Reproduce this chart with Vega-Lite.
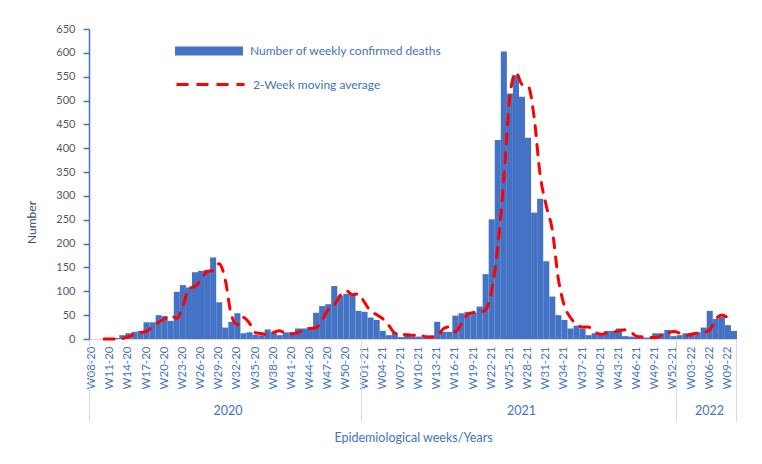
{
  "$schema": "https://vega.github.io/schema/vega-lite/v6.json",
  "width": 648,
  "height": 310,
  "autosize": {"type": "none"},
  "padding": {"left": 89, "top": 29, "right": 25, "bottom": 125},
  "background": "white",
  "config": {"font": "Lato", "view": {"stroke": null}},
  "data": {"values": [
    {"w":"W08-20","d":0,"m":null},{"w":"W09-20","d":0,"m":null},{"w":"W10-20","d":0,"m":0},{"w":"W11-20","d":0,"m":0},
    {"w":"W12-20","d":2,"m":0},{"w":"W13-20","d":8,"m":1},{"w":"W14-20","d":12,"m":5},{"w":"W15-20","d":15,"m":10},
    {"w":"W16-20","d":17,"m":13.5},{"w":"W17-20","d":35,"m":16},{"w":"W18-20","d":35,"m":26},{"w":"W19-20","d":50,"m":35},
    {"w":"W20-20","d":48,"m":42.5},{"w":"W21-20","d":38,"m":49},{"w":"W22-20","d":99,"m":43},{"w":"W23-20","d":113,"m":68.5},
    {"w":"W24-20","d":108,"m":106},{"w":"W25-20","d":140,"m":110.5},{"w":"W26-20","d":143,"m":124},{"w":"W27-20","d":145,"m":141.5},
    {"w":"W28-20","d":171,"m":144},{"w":"W29-20","d":77,"m":158},{"w":"W30-20","d":24,"m":124},{"w":"W31-20","d":36,"m":50.5},
    {"w":"W32-20","d":54,"m":30},{"w":"W33-20","d":12,"m":45},{"w":"W34-20","d":14,"m":33},{"w":"W35-20","d":9,"m":13},
    {"w":"W36-20","d":8,"m":11.5},{"w":"W37-20","d":20,"m":8.5},{"w":"W38-20","d":15,"m":14},{"w":"W39-20","d":8,"m":17.5},
    {"w":"W40-20","d":14,"m":11.5},{"w":"W41-20","d":14,"m":11},{"w":"W42-20","d":22,"m":14},{"w":"W43-20","d":22,"m":18},
    {"w":"W44-20","d":25,"m":22},{"w":"W45-20","d":55,"m":23.5},{"w":"W46-20","d":69,"m":40},{"w":"W47-20","d":73,"m":62},
    {"w":"W48-20","d":111,"m":71},{"w":"W49-20","d":91,"m":92},{"w":"W50-20","d":95,"m":101},{"w":"W51-20","d":94,"m":93},
    {"w":"W52-20","d":59,"m":94.5},
    {"w":"W01-21","d":57,"m":76.5},{"w":"W02-21","d":45,"m":58},{"w":"W03-21","d":40,"m":51},{"w":"W04-21","d":17,"m":42.5},
    {"w":"W05-21","d":8,"m":28.5},{"w":"W06-21","d":13,"m":12.5},{"w":"W07-21","d":4,"m":10.5},{"w":"W08-21","d":12,"m":8.5},
    {"w":"W09-21","d":5,"m":8},{"w":"W10-21","d":5,"m":8.5},{"w":"W11-21","d":3,"m":5},{"w":"W12-21","d":7,"m":4},
    {"w":"W13-21","d":36,"m":5},{"w":"W14-21","d":15,"m":21.5},{"w":"W15-21","d":15,"m":25.5},{"w":"W16-21","d":49,"m":15},
    {"w":"W17-21","d":54,"m":32},{"w":"W18-21","d":57,"m":51.5},{"w":"W19-21","d":55,"m":55.5},{"w":"W20-21","d":68,"m":56},
    {"w":"W21-21","d":136,"m":61.5},{"w":"W22-21","d":251,"m":102},{"w":"W23-21","d":417,"m":193.5},{"w":"W24-21","d":603,"m":334},
    {"w":"W25-21","d":515,"m":510},{"w":"W26-21","d":553,"m":559},{"w":"W27-21","d":508,"m":534},{"w":"W28-21","d":422,"m":530.5},
    {"w":"W29-21","d":265,"m":465},{"w":"W30-21","d":294,"m":343.5},{"w":"W31-21","d":163,"m":279.5},{"w":"W32-21","d":89,"m":228.5},
    {"w":"W33-21","d":50,"m":126},{"w":"W34-21","d":40,"m":69.5},{"w":"W35-21","d":22,"m":45},{"w":"W36-21","d":28,"m":31},
    {"w":"W37-21","d":22,"m":25},{"w":"W38-21","d":8,"m":25},{"w":"W39-21","d":12,"m":15},{"w":"W40-21","d":12,"m":10},
    {"w":"W41-21","d":17,"m":12},{"w":"W42-21","d":17,"m":14.5},{"w":"W43-21","d":22,"m":17},{"w":"W44-21","d":6,"m":19.5},
    {"w":"W45-21","d":5,"m":14},{"w":"W46-21","d":4,"m":5.5},{"w":"W47-21","d":3,"m":4.5},{"w":"W48-21","d":3,"m":3.5},
    {"w":"W49-21","d":12,"m":3},{"w":"W50-21","d":12,"m":7.5},{"w":"W51-21","d":19,"m":12},{"w":"W52-21","d":6,"m":15.5},
    {"w":"W01-22","d":8,"m":12.5},{"w":"W02-22","d":12,"m":7},{"w":"W03-22","d":13,"m":10},{"w":"W04-22","d":14,"m":12.5},
    {"w":"W05-22","d":24,"m":13.5},{"w":"W06-22","d":59,"m":19},{"w":"W07-22","d":42,"m":41.5},{"w":"W08-22","d":46,"m":50.5},
    {"w":"W09-22","d":29,"m":44},{"w":"W10-22","d":17,"m":null}
  ]},
  "layer": [
    {
      "mark": {"type": "bar"},
      "encoding": {
        "x": {"field": "w", "type": "nominal", "sort": null,
          "scale": {"paddingInner": 0, "paddingOuter": 0},
          "axis": {"orient": "bottom", "title": null,
            "values": ["W08-20","W11-20","W14-20","W17-20","W20-20","W23-20","W26-20","W29-20","W32-20","W35-20","W38-20","W41-20","W44-20","W47-20","W50-20","W01-21","W04-21","W07-21","W10-21","W13-21","W16-21","W19-21","W22-21","W25-21","W28-21","W31-21","W34-21","W37-21","W40-21","W43-21","W46-21","W49-21","W52-21","W03-22","W06-22","W09-22"],
            "labelAngle": -90, "labelColor": "#4472C4", "labelFontSize": 11.5, "labelPadding": 7,
            "ticks": false, "domainColor": "#D9D9D9", "domainWidth": 1, "labelOverlap": false, "labelBound": false}},
        "y": {"field": "d", "type": "quantitative", "title": "Number",
          "scale": {"domain": [0, 650], "nice": false},
          "axis": {"values": [0,50,100,150,200,250,300,350,400,450,500,550,600,650], "grid": false,
            "domainColor": "#4472C4", "domainWidth": 1.5, "tickColor": "#4472C4", "tickSize": 6, "tickWidth": 1.5,
            "labelColor": "#595959", "labelFontSize": 11, "labelPadding": 8,
            "titleColor": "#3A4A6B", "titleFontSize": 12, "titleFontWeight": "normal", "titleX": -51, "titleY": 193, "titleAngle": -90}},
        "fill": {"datum": "Number of weekly confirmed deaths", "scale": {"range": ["#4472C4"]},
          "legend": {"orient": "none", "legendX": 86, "legendY": -12, "title": null, "padding": 0, "labelLimit": 0,
            "symbolType": "M-1,-0.132H1V0.132H-1Z", "symbolSize": 4624, "symbolStrokeWidth": 0, "symbolFillColor": "#4472C4",
            "labelColor": "#4472C4", "labelFontSize": 12, "labelOffset": 7}}
      }
    },
    {
      "mark": {"type": "line", "strokeWidth": 3, "strokeDash": [10, 9], "strokeCap": "round", "interpolate": "monotone"},
      "encoding": {
        "x": {"field": "w", "type": "nominal", "sort": null,
          "scale": {"paddingInner": 0, "paddingOuter": 0},
          "axis": {"orient": "bottom", "values": ["W08-20","W01-21","W01-22"], "bandPosition": 0,
            "tickSize": 82, "tickColor": "#D9D9D9", "tickWidth": 1, "domain": false,
            "labelExpr": "datum.value == 'W08-20' ? '2020' : datum.value == 'W01-21' ? '2021' : '2022'",
            "labelAngle": 0, "labelAlign": "center", "labelBaseline": "middle", "labelPadding": -11,
            "labelColor": "#4472C4", "labelFontSize": 12.5,
            "labelOffset": {"condition": [{"test": "datum.value == 'W08-20'", "value": 136}, {"test": "datum.value == 'W01-21'", "value": 157}], "value": 30},
            "labelBound": false, "labelOverlap": false,
            "title": "Epidemiological weeks/Years", "titleColor": "#4472C4", "titleFontSize": 12.5, "titleFontWeight": "normal",
            "titleY": 98, "titleBaseline": "middle"}},
        "y": {"field": "m", "type": "quantitative", "title": "Number",
          "scale": {"domain": [0, 650], "nice": false},
          "axis": {"values": [0,50,100,150,200,250,300,350,400,450,500,550,600,650], "grid": false,
            "domainColor": "#4472C4", "domainWidth": 1.5, "tickColor": "#4472C4", "tickSize": 6, "tickWidth": 1.5,
            "labelColor": "#595959", "labelFontSize": 11, "labelPadding": 8,
            "titleColor": "#3A4A6B", "titleFontSize": 12, "titleFontWeight": "normal", "titleX": -51, "titleY": 193, "titleAngle": -90}},
        "stroke": {"datum": "2-Week moving average", "scale": {"range": ["#FF0000"]},
          "legend": {"orient": "none", "legendX": 86, "legendY": 20, "title": null, "padding": 0, "labelLimit": 0,
            "symbolType": "stroke", "symbolSize": 4624, "symbolStrokeWidth": 3, "symbolDash": [12, 8],
            "labelColor": "#4472C4", "labelFontSize": 12, "labelOffset": 7}}
      }
    },
    {
      "mark": {"type": "point", "opacity": 0},
      "encoding": {
        "x": {"field": "w", "type": "nominal", "sort": null,
          "scale": {"paddingInner": 0, "paddingOuter": 0},
          "axis": {"orient": "bottom", "values": ["W10-22"], "bandPosition": 1, "tickSize": 82,
            "tickColor": "#D9D9D9", "tickWidth": 1, "labels": false, "domain": false, "title": null}},
        "y": {"field": "d", "type": "quantitative", "title": "Number",
          "scale": {"domain": [0, 650], "nice": false},
          "axis": {"values": [0,50,100,150,200,250,300,350,400,450,500,550,600,650], "grid": false,
            "domainColor": "#4472C4", "domainWidth": 1.5, "tickColor": "#4472C4", "tickSize": 6, "tickWidth": 1.5,
            "labelColor": "#595959", "labelFontSize": 11, "labelPadding": 8,
            "titleColor": "#3A4A6B", "titleFontSize": 12, "titleFontWeight": "normal", "titleX": -51, "titleY": 193, "titleAngle": -90}}
      }
    }
  ],
  "resolve": {"axis": {"x": "independent"}, "scale": {"x": "shared"}}
}
